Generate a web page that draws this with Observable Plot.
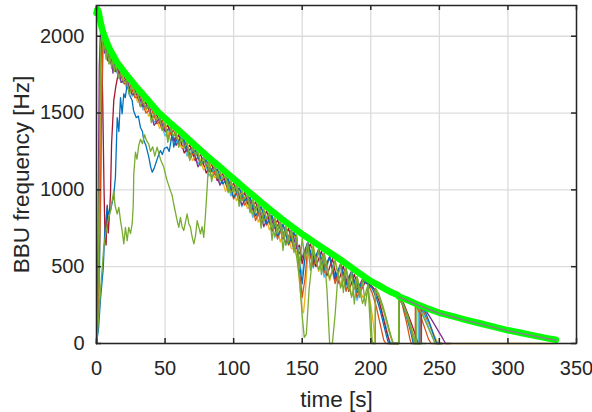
<!DOCTYPE html>
<html><head><meta charset="utf-8">
<script src="https://cdn.jsdelivr.net/npm/d3@7"></script>
<script src="https://cdn.jsdelivr.net/npm/@observablehq/plot@0.6"></script>
<style>html,body{margin:0;padding:0;background:#fff;} svg{display:block}</style>
</head><body><div id="chart"></div>
<script>
const xTicks = [0, 50, 100, 150, 200, 250, 300, 350];
const yTicks = [0, 500, 1000, 1500, 2000];
const xLabel = "time [s]";
const yLabel = "BBU frequency [Hz]";

// upper envelope (thick green)
const envelope = [[0,2150],[0.7,2175],[1.5,2160],[2.5,2110],[4,2050],[5,2020],[7.5,1960],[10,1910],[12.5,1870],[15,1830],[17.5,1800],[20,1770],[25,1715],[30,1660],[35,1610],[40,1558],[45,1506],[50,1465],[55,1425],[60,1387],[65,1346],[70,1305],[75,1265],[80,1225],[85,1187],[90,1150],[95,1110],[100,1072],[105,1034],[110,995],[115,958],[120,920],[125,883],[130,848],[135,812],[140,778],[145,745],[150,712],[155,682],[160,652],[165,622],[170,592],[175,563],[180,532],[185,500],[190,468],[195,437],[200,406],[205,383],[210,357],[215,333],[219.5,316],[220.5,305],[225,290],[230,270],[235,250],[240,232],[245,216],[250,200],[260,176],[270,152],[280,130],[290,108],[300,86],[310,68],[320,50],[330,32],[335,24]];

const lightblue = [[0,0],[1,100],[2,350],[3,900],[4,1600],[5,1950],[6,1920],[8,1900],[10,1850],[12,1830],[14,1780],[18,1700],[22,1718],[26,1610],[30,1632],[34,1520],[38,1551],[42,1440],[46,1470],[50,1350],[54,1405],[58,1300],[62,1343],[66,1220],[70,1277],[74,1170],[78,1213],[82,1090],[86,1151],[90,1040],[94,1090],[98,960],[102,1029],[106,890],[110,967],[114,820],[118,908],[122,790],[126,848],[130,690],[134,791],[138,640],[142,737],[146,640],[148,520],[150,450],[152,560],[154,660],[158,490],[162,612],[166,430],[170,564],[174,400],[178,517],[182,350],[186,467],[190,280],[194,410],[198,390],[202,360],[206,270],[210,150],[213,40],[214.5,0],[220.3,0],[220.4,300],[224,240],[228,140],[231,40],[232.5,0],[234.9,0],[235,250],[238,200],[242,110],[246,20],[247,0],[250,0]];

const darkred = [[0,0],[1,150],[2,1000],[2.9,2000],[3.5,1980],[4.5,1600],[5.5,1000],[6.2,700],[7,640],[7.8,900],[8.6,720],[9.5,850],[10.2,975],[11,1300],[12.6,1581],[14,1668],[15.5,1740],[16,1790],[20,1742],[24,1640],[28,1656],[32,1545],[36,1572],[40,1470],[44,1488],[48,1390],[52,1421],[56,1320],[60,1359],[64,1240],[68,1293],[72,1190],[76,1229],[80,1110],[84,1166],[88,1060],[92,1106],[96,990],[100,1044],[104,920],[108,983],[112,860],[116,923],[120,780],[124,863],[128,730],[132,806],[136,680],[140,750],[144,610],[148,640],[150,520],[152,600],[156,648],[160,500],[164,600],[168,440],[172,552],[176,390],[180,504],[184,340],[188,450],[192,330],[196,400],[200,380],[203,350],[206,280],[209,170],[212,60],[214,0],[220.3,0],[220.4,310],[224,260],[228,170],[232,70],[234.5,0],[235.9,0],[236,245],[239,200],[243,120],[247,30],[249,0],[252,0]];

const yellow = [[0,0],[0.5,245],[1.5,420],[2.5,900],[3.5,1700],[4.5,1980],[6,1920],[8,1900],[10,1860],[12,1820],[14,1800],[18,1766],[22,1660],[26,1678],[30,1570],[34,1592],[38,1480],[42,1510],[46,1400],[50,1437],[54,1320],[58,1374],[62,1270],[66,1310],[70,1190],[74,1246],[78,1130],[82,1181],[86,1080],[90,1122],[94,990],[98,1060],[102,930],[106,998],[110,880],[114,938],[118,790],[122,877],[126,740],[130,820],[134,660],[138,764],[142,620],[146,600],[148,400],[150,213],[151,200],[152,300],[154,560],[158,636],[162,470],[166,588],[170,410],[174,541],[178,380],[182,492],[186,310],[190,434],[194,300],[198,330],[200,250],[202,120],[203.3,0],[203.4,350],[206,300],[210,190],[214,60],[216,0],[220.3,0],[220.4,305],[224,240],[228,120],[231,20],[232,0],[236.9,0],[237,240],[240,190],[244,100],[248,20],[249,0],[335,0]];

const orange = [[0,0],[0.5,100],[1.5,300],[2.5,700],[3.5,1400],[4.5,1950],[5.5,1900],[6.5,1940],[8,1890],[10,1870],[12,1850],[14,1790],[16,1790],[20,1690],[24,1698],[28,1600],[32,1612],[36,1500],[40,1530],[44,1430],[48,1453],[52,1340],[56,1390],[60,1300],[64,1326],[68,1200],[72,1262],[76,1160],[80,1197],[84,1080],[88,1137],[92,1040],[96,1074],[100,940],[104,1014],[108,900],[112,952],[116,800],[120,892],[124,770],[128,834],[132,680],[136,777],[140,640],[144,724],[146,650],[148,480],[150,300],[152,420],[154,630],[158,500],[162,612],[166,460],[170,564],[174,390],[178,517],[182,340],[186,467],[190,300],[194,408],[198,385],[201,330],[204,240],[207,120],[209.5,20],[211,0],[220.3,0],[220.4,305],[223,250],[226,140],[228.5,30],[229.5,0],[232.4,0],[232.5,255],[235.5,200],[239,110],[242,30],[244,0],[250,0]];

const purple = [[0,0],[1,500],[2,1800],[3,2040],[4,2010],[5,1960],[6,1890],[7,1935],[8,1840],[9,1900],[10,1820],[11,1870],[12,1760],[13,1840],[14,1770],[16,1790],[18,1700],[22,1716],[26,1620],[30,1632],[34,1540],[38,1550],[42,1420],[46,1470],[50,1380],[54,1405],[58,1290],[62,1343],[66,1250],[70,1277],[74,1150],[78,1212],[82,1120],[86,1150],[90,1030],[94,1090],[98,1000],[102,1028],[106,900],[110,966],[114,870],[118,907],[122,760],[126,848],[130,750],[134,790],[138,650],[142,737],[146,620],[150,560],[154,660],[158,520],[162,612],[166,490],[170,565],[174,420],[178,518],[182,400],[186,470],[190,350],[194,420],[198,400],[202,385],[206,368],[210,350],[214,330],[218,312],[221,298],[224,285],[228,270],[232,258],[236,246],[240,215],[244,160],[248,100],[252,40],[254.5,0],[258,0]];

const blue = [[0,0],[1.5,100],[3,300],[4.9,487],[6,720],[7.8,887],[9,840],[10.2,864],[11.5,920],[12.4,950],[13.8,1082],[15.1,1470],[16.3,1380],[17.5,1600],[18.7,1495],[19.9,1626],[21,1600],[22.4,1690],[24,1620],[26,1582],[27,1517],[29,1470],[30.5,1480],[32,1408],[33.5,1380],[34.5,1321],[36,1290],[38,1220],[39.5,1150],[40.6,1115],[42,1140],[43.5,1180],[45,1220],[46.6,1256],[48,1230],[49.5,1270],[51.5,1278],[53,1250],[55.2,1365],[56.3,1278],[58,1330],[59.5,1300],[61,1345],[64,1320],[68,1230],[72,1260],[76,1170],[80,1195],[84,1120],[88,1135],[92,1040],[96,1072],[100,950],[104,1012],[108,930],[112,950],[116,830],[120,890],[124,780],[128,832],[132,700],[136,775],[140,650],[144,720],[146,690],[148,520],[150,390],[152,560],[154,655],[158,540],[162,610],[166,480],[170,562],[174,430],[178,515],[182,380],[186,465],[190,330],[194,407],[198,385],[201,360],[204,300],[207,210],[210,100],[212,30],[213,0],[220.3,0],[220.4,300],[223,260],[226,180],[229,80],[231,0],[236.9,0],[237,240],[240,200],[243,130],[246,50],[248,0],[252,0]];

const green1 = [[0,0],[0.5,39],[2.9,343],[5.3,626],[7.8,778],[10.2,864],[12.6,995],[13.5,900],[15.1,843],[16.3,886],[17.5,800],[18.7,735],[19.9,648],[21.1,756],[22.4,669],[23.5,756],[24.8,715],[26,778],[26.8,900],[27.2,1104],[28.4,1245],[29.5,1200],[30.8,1289],[32.1,1330],[33.5,1300],[35,1360],[36.5,1320],[38,1300],[39.4,1250],[41,1280],[42.5,1220],[44.2,1278],[46.6,1200],[49.1,1147],[50.3,1100],[51.5,1060],[53.9,995],[55.2,963],[56.3,908],[58.8,800],[60,756],[61.2,821],[62.4,760],[63.6,735],[66.1,843],[67.3,780],[68.5,756],[69.8,691],[71,648],[72.2,700],[73.4,800],[75.8,713],[77,760],[78.2,691],[79.5,843],[80.7,1017],[81.4,1126],[82,1180],[86,1150],[90,1060],[94,1090],[98,980],[102,1030],[106,930],[110,967],[114,840],[118,905],[122,800],[126,846],[130,700],[134,790],[138,640],[142,735],[146,560],[148,420],[150,180],[151.5,40],[153,60],[155,350],[158,600],[162,480],[166,590],[170,420],[174,540],[178,360],[182,490],[186,300],[190,435],[194,260],[198,385],[200,200],[201,18],[202,0],[203.3,0],[203.4,360],[206,320],[209,240],[212,140],[215,40],[216.5,0],[220.3,0],[220.4,300],[224,240],[228,130],[231,30],[232,0],[233.5,0],[233.6,250],[237,200],[241,120],[245,40],[247,0],[252,0]];

const green2 = [[0,0],[1,250],[2,1100],[3,1950],[4,2010],[5,1900],[6,1960],[7,1850],[8,1915],[9,1820],[10,1880],[11,1790],[12,1850],[13,1770],[14,1820],[16,1728],[18,1769],[20,1700],[22,1716],[24,1616],[26,1680],[28,1624],[30,1635],[32,1540],[34,1590],[36,1525],[38,1554],[40,1438],[42,1507],[44,1456],[46,1473],[48,1386],[50,1440],[52,1309],[54,1403],[56,1347],[58,1376],[60,1277],[62,1346],[64,1274],[66,1308],[68,1191],[70,1280],[72,1229],[74,1248],[76,1157],[78,1211],[80,1150],[82,1184],[84,1054],[86,1154],[88,1075],[90,1120],[92,1074],[94,1093],[96,982],[98,1057],[100,987],[102,1032],[104,892],[106,996],[108,941],[110,970],[112,850],[114,936],[116,861],[118,911],[120,750],[122,875],[124,811],[126,851],[128,672],[130,818],[132,724],[134,794],[136,605],[138,762],[140,658],[142,740],[144,592],[146,708],[148,484],[150,687],[152,550],[154,658],[156,476],[158,639],[160,522],[162,610],[164,448],[166,586],[168,354],[170,0],[172,0],[174,189],[176,437],[178,515],[180,332],[182,490],[184,348],[186,470],[188,257],[190,432],[192,299],[194,412],[196,246],[198,375],[200,50],[201,0],[203.3,0],[203.4,350],[206,300],[210,200],[214,60],[216.5,0],[220.3,0],[220.4,305],[223,270],[227,180],[231,60],[233,0],[240,0]];

// long-lived run, drawn inside the envelope band
const grayTail = [[220.5,302],[225,287],[230,267],[235,247],[240,229],[245,213],[250,197],[260,173],[270,149],[280,127],[290,105],[300,83],[310,65],[320,47],[330,29],[335,21]];

const W = 592, H = 412, mL = 96, mR = 16, mT = 5, mB = 69;
const innerW = W - mL - mR, innerH = H - mT - mB;
const ink = "#262626";

const runs = [
  {data: lightblue, color: "#4DBEEE"},
  {data: darkred, color: "#A2142F"},
  {data: yellow, color: "#EDB120"},
  {data: orange, color: "#D95319"},
  {data: purple, color: "#7E2F8E"},
  {data: blue, color: "#0072BD"},
  {data: green1, color: "#77AC30"},
  {data: green2, color: "#77AC30"}
];

const chart = Plot.plot({
  width: W, height: H,
  marginLeft: mL, marginRight: mR, marginTop: mT, marginBottom: mB,
  x: {domain: [0, 350]},
  y: {domain: [0, 2200]},
  style: {fontFamily: "'Liberation Sans', Arial, Helvetica, sans-serif", fontSize: "20px", color: ink, background: "#fff"},
  marks: [
    Plot.gridX(xTicks, {stroke: "#dcdcdc", strokeOpacity: 1, strokeWidth: 1.3}),
    Plot.gridY(yTicks, {stroke: "#dcdcdc", strokeOpacity: 1, strokeWidth: 1.3}),
    Plot.axisX(xTicks, {tickSize: 0, tickPadding: 17, label: null, fill: ink, fontSize: 20, tickFormat: d => String(d)}),
    Plot.axisY(yTicks, {tickSize: 0, tickPadding: 12, label: null, fill: ink, fontSize: 20, tickFormat: d => String(d)}),
    ...runs.map(r => Plot.line(r.data, {x: d => d[0], y: d => d[1], stroke: r.color, strokeWidth: 1.3, strokeLinejoin: "round"})),
    Plot.line(envelope, {x: d => d[0], y: d => d[1], stroke: "#00FF00", strokeWidth: 6.5, strokeLinejoin: "round", strokeLinecap: "round"}),
    Plot.line(grayTail, {x: d => d[0], y: d => d[1], stroke: "#8a7f8a", strokeWidth: 1.5}),
    Plot.frame({stroke: ink, strokeWidth: 1.5}),
    Plot.ruleX(xTicks, {x: d => d, insetTop: innerH - 5, stroke: ink, strokeWidth: 1.5}),
    Plot.ruleX(xTicks, {x: d => d, insetBottom: innerH - 5, stroke: ink, strokeWidth: 1.5}),
    Plot.ruleY(yTicks, {y: d => d, insetRight: innerW - 5, stroke: ink, strokeWidth: 1.5}),
    Plot.ruleY(yTicks, {y: d => d, insetLeft: innerW - 5, stroke: ink, strokeWidth: 1.5}),
    Plot.text([xLabel], {text: d => d, frameAnchor: "bottom", dy: 56.5, textAnchor: "middle", lineAnchor: "middle", fontSize: 22.5, fill: ink}),
    Plot.text([yLabel], {text: d => d, frameAnchor: "left", dx: -75, rotate: -90, textAnchor: "middle", lineAnchor: "middle", fontSize: 22.5, fill: ink})
  ]
});
document.getElementById("chart").append(chart);
</script></body></html>
